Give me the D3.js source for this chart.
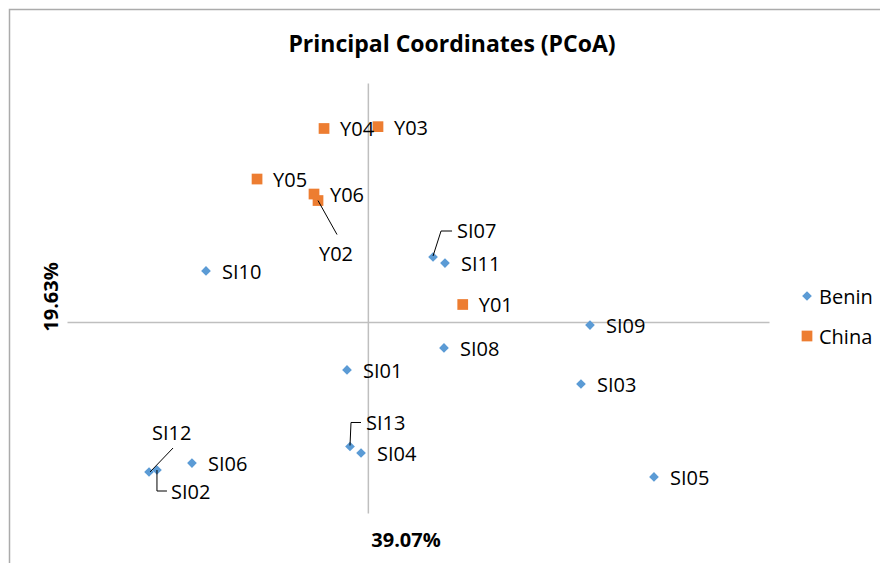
<!DOCTYPE html>
<html>
<head>
<meta charset="utf-8">
<script src="https://cdn.jsdelivr.net/npm/d3@7/dist/d3.min.js"></script>
<style>
  html, body { margin: 0; padding: 0; background: #fff; }
  svg { display: block; }
  text { font-family: "Open Sans", Lato, sans-serif; fill: #000; }
</style>
</head>
<body>
<svg id="chart" width="880" height="563"></svg>
<script>
// ---- data ----
const beninNames = ["SI01","SI02","SI03","SI04","SI05","SI06","SI07","SI08","SI09","SI10","SI11","SI12","SI13"];
const beninX = [-0.0208,-0.2103,0.2125,-0.0068,0.2853,-0.1754,0.0650,0.0759,0.2215,-0.1614,0.0769,-0.2182,-0.0178];
const beninY = [-0.0503,-0.1550,-0.0650,-0.1372,-0.1623,-0.1477,0.0679,-0.0273,-0.0033,0.0533,0.0616,-0.1571,-0.1304];

const chinaNames = ["Y01","Y02","Y03","Y04","Y05","Y06"];
const chinaX = [0.0946,-0.0497,0.0101,-0.0437,-0.1105,-0.0537];
const chinaY = [0.0182,0.1270,0.2043,0.2024,0.1495,0.1338];

const seriesNames = ["Benin","China"];
const titleText = "Principal Coordinates (PCoA)";
const xAxisTitle = "39.07%";
const yAxisTitle = "19.63%";
const xDomain = [-0.3, 0.4];
const yDomain = [-0.2, 0.25];

// ---- layout ----
const colors = {Benin: "#5B9BD5", China: "#ED7D31"};
const plot = {left: 67, right: 769, top: 83, bottom: 513};

// custom label placements (pixel offsets from marker) with leader lines
const labelLayout = {
  SI07: {dx: 24, dy: -27, leader: [[0,-1],[8,-26],[19,-26]]},
  SI13: {dx: 16, dy: -24, leader: [[0,-1],[1,-24],[11,-24]]},
  SI12: {dx: 3,  dy: -40, leader: [[24,-24],[1,0]]},
  SI02: {dx: 14, dy: 21,  leader: [[0,0],[0,21],[10,21]]},
  Y02:  {dx: 1,  dy: 52,  leader: [[0,0],[19,34]]}
};
const defaultDx = 16;
const labelDy = 8;

const svg = d3.select("#chart");

// chart frame
svg.append("rect")
  .attr("x", 9.5).attr("y", 9.5)
  .attr("width", 900).attr("height", 600)
  .attr("fill", "#fff")
  .attr("stroke", "#ABABAB").attr("stroke-width", 1.5);

const x = d3.scaleLinear().domain(xDomain).range([plot.left, plot.right]);
const y = d3.scaleLinear().domain(yDomain).range([plot.bottom, plot.top]);

// axes through origin, no ticks/labels
const xAxis = d3.axisBottom(x).tickValues([]).tickSizeOuter(0);
const yAxis = d3.axisLeft(y).tickValues([]).tickSizeOuter(0);
svg.append("g").attr("transform", `translate(0,${y(0)})`).call(xAxis)
  .select(".domain").attr("stroke", "#BFBFBF").attr("stroke-width", 1.5);
svg.append("g").attr("transform", `translate(${x(0)},0)`).call(yAxis)
  .select(".domain").attr("stroke", "#BFBFBF").attr("stroke-width", 1.5);

// title
svg.append("text")
  .attr("x", 452).attr("y", 52)
  .attr("text-anchor", "middle")
  .style("font-size", "23px").style("font-weight", "bold")
  .text(titleText);

// axis titles
svg.append("text")
  .attr("x", 406).attr("y", 547)
  .attr("text-anchor", "middle")
  .style("font-size", "20px").style("font-weight", "bold")
  .text(xAxisTitle);
svg.append("text")
  .attr("transform", "translate(58,297) rotate(-90)")
  .attr("text-anchor", "middle")
  .style("font-size", "20px").style("font-weight", "bold")
  .text(yAxisTitle);

const benin = beninNames.map((n, i) => ({name: n, x: beninX[i], y: beninY[i], s: "Benin"}));
const china = chinaNames.map((n, i) => ({name: n, x: chinaX[i], y: chinaY[i], s: "China"}));

const diamond = d3.symbol().type(d3.symbolDiamond2).size(60);
const square = d3.symbol().type(d3.symbolSquare).size(115);

function drawSeries(data, sym) {
  const g = svg.append("g");
  g.selectAll("path.m").data(data).join("path")
    .attr("class", "m")
    .attr("transform", d => `translate(${x(d.x)},${y(d.y)})`)
    .attr("d", sym)
    .attr("fill", d => colors[d.s]);
}
drawSeries(benin, diamond);
drawSeries(china, square);

// labels
const all = benin.concat(china);
const lg = svg.append("g");
all.forEach(d => {
  const px = x(d.x), py = y(d.y);
  const L = labelLayout[d.name];
  if (L && L.leader) {
    lg.append("path")
      .attr("d", d3.line()(L.leader.map(p => [px + p[0], py + p[1]])))
      .attr("fill", "none").attr("stroke", "#000").attr("stroke-width", 1);
  }
  lg.append("text")
    .attr("x", px + (L ? L.dx : defaultDx))
    .attr("y", py + (L ? L.dy : 0) + labelDy)
    .style("font-size", "20px")
    .text(d.name);
});

// legend
const legend = svg.append("g");
seriesNames.forEach((s, i) => {
  const ly = 296 + i * 40;
  legend.append("path")
    .attr("transform", `translate(807,${ly})`)
    .attr("d", i === 0 ? diamond : square)
    .attr("fill", colors[s]);
  legend.append("text")
    .attr("x", 819).attr("y", ly + labelDy)
    .style("font-size", "20px")
    .text(s);
});
</script>
</body>
</html>
